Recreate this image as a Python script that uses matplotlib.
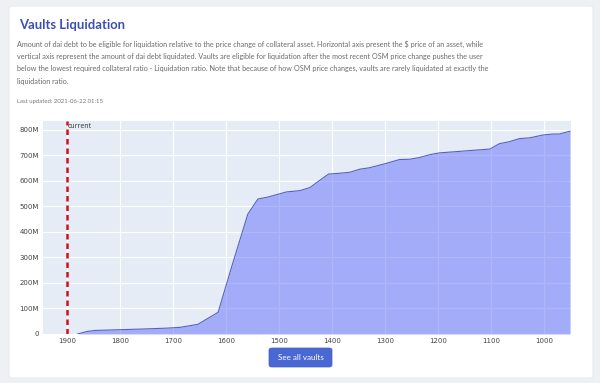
import matplotlib.pyplot as plt
from matplotlib.patches import FancyBboxPatch
from matplotlib.ticker import FuncFormatter

# price ($) and liquidated dai debt (in millions)
prices = [1880, 1862, 1847, 1813, 1750, 1712, 1687, 1653, 1615, 1590, 1559, 1540,
          1521, 1486, 1461, 1442, 1427, 1407, 1392, 1367, 1348, 1329, 1298, 1273,
          1254, 1235, 1216, 1198, 1166, 1135, 1103, 1085, 1066, 1047, 1028, 1003,
          984, 972, 952]
debt_m = [0, 10, 14, 16, 20, 23, 26, 38, 85, 260, 470, 529,
          537, 557, 562, 574, 597, 627, 629, 634, 646, 652, 669, 684,
          685, 692, 703, 710, 715, 720, 725, 746, 754, 766, 769, 780,
          784, 784, 795]

current_price = 1900
x_ticks = [1900, 1800, 1700, 1600, 1500, 1400, 1300, 1200, 1100, 1000]
y_ticks = [0, 100, 200, 300, 400, 500, 600, 700, 800]

title = "Vaults Liquidation"
desc_lines = [
    "Amount of dai debt to be eligible for liquidation relative to the price change of collateral asset. Horizontal axis present the $ price of an asset, while",
    "vertical axis represent the amount of dai debt liquidated. Vaults are eligible for liquidation after the most recent OSM price change pushes the user",
    "below the lowest required collateral ratio - Liquidation ratio. Note that because of how OSM price changes, vaults are rarely liquidated at exactly the",
    "liquidation ratio.",
]
updated = "Last updated: 2021-06-22 01:15"

W, H = 600, 383
fig = plt.figure(figsize=(6, 3.83), dpi=100)
fig.patch.set_facecolor("#eef0f4")

# white card (behind everything)
card = FancyBboxPatch((9 / W, 1 - 378 / H), 584 / W, 372 / H,
                      boxstyle="round,pad=0,rounding_size=0.006",
                      transform=fig.transFigure, facecolor="white",
                      edgecolor="#e4e7ec", linewidth=0.6, zorder=-5)
fig.patches.append(card)

txt_font = ["Lato", "DejaVu Sans"]
fig.text(19 / W, 1 - 25 / H, title, fontsize=9.4, fontweight="bold",
         color="#3d4fb4", family=txt_font, va="center")
for i, line in enumerate(desc_lines):
    fig.text(17 / W, 1 - (44 + i * 12.4) / H, line, fontsize=5.25,
             color="#6b6b6b", family=txt_font, va="center")
fig.text(17 / W, 1 - 102 / H, updated, fontsize=4.35, color="#777777",
         family=txt_font, va="center")

# chart
ax = fig.add_axes([43 / W, 1 - 334 / H, 528 / W, 213 / H])
ax.set_facecolor("#e5ecf6")
ax.fill_between(prices, debt_m, 0, color="#636efa", alpha=0.5, linewidth=0, zorder=2)
ax.plot(prices, debt_m, color="#5660c0", linewidth=0.8, zorder=3)
ax.axvline(current_price, color="#d0101e", linewidth=1.8, linestyle=(0, (2.2, 1.6)), zorder=4)
ax.text(current_price - 1, 815, "current", fontsize=5, color="#333333",
        ha="left", va="center", family=["Open Sans", "DejaVu Sans"], zorder=5)

ax.set_xlim(1945, 950)
ax.set_ylim(0, 835)
ax.set_xticks(x_ticks)
ax.set_yticks(y_ticks)
ax.yaxis.set_major_formatter(FuncFormatter(lambda v, p: "0" if v == 0 else f"{int(v)}M"))
ax.grid(True, color="white", linewidth=0.8, zorder=1)
ax.set_axisbelow(True)
for s in ax.spines.values():
    s.set_visible(False)
ax.tick_params(length=0, labelsize=5, labelcolor="#444444", pad=3)
for lab in ax.get_xticklabels() + ax.get_yticklabels():
    lab.set_family(["DejaVu Sans"])

# button
btn = FancyBboxPatch((269 / W, 1 - 367 / H), 63 / W, 19 / H,
                     boxstyle="round,pad=0,rounding_size=0.005",
                     transform=fig.transFigure, facecolor="#4a68d4",
                     edgecolor="#3f5cc4", linewidth=0.5)
fig.patches.append(btn)
fig.text(300.5 / W, 1 - 357.5 / H, "See all vaults", fontsize=5.8, color="white",
         family=txt_font, ha="center", va="center")

fig.savefig("out.png", dpi=100)
